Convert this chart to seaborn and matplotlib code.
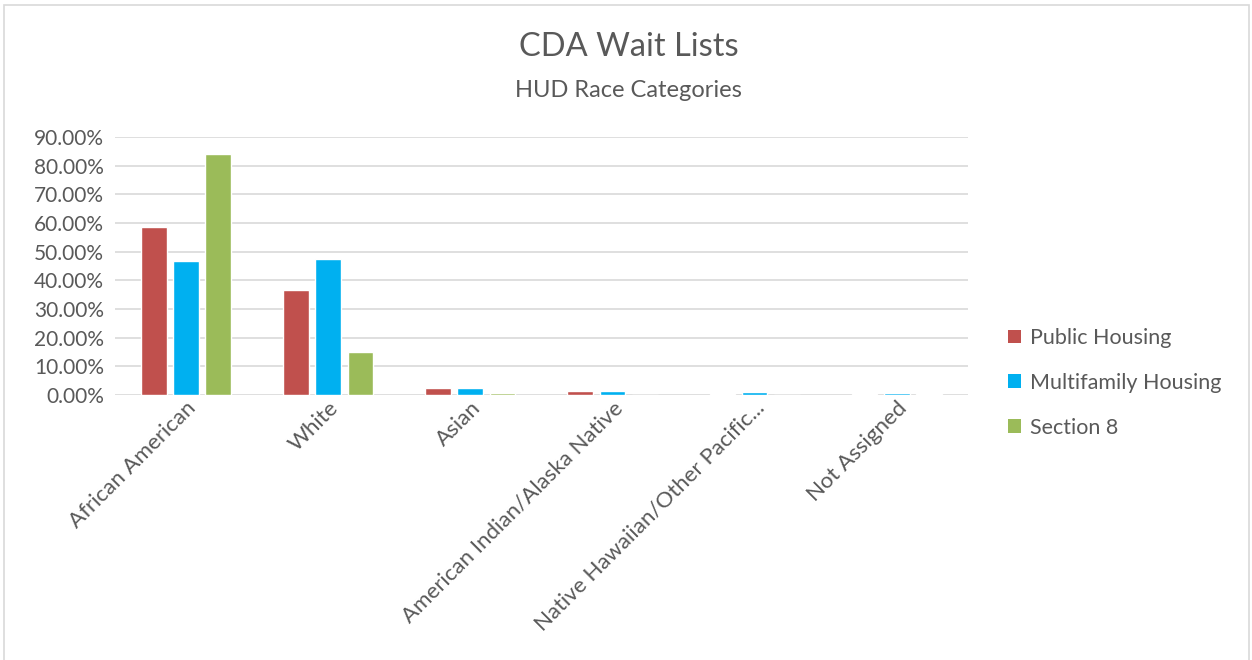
import matplotlib
matplotlib.use("Agg")
import matplotlib.pyplot as plt
from matplotlib.patches import Rectangle, Patch
from matplotlib.ticker import FuncFormatter
import pandas as pd
import seaborn as sns

categories = ["African American", "White", "Asian", "American Indian/Alaska Native",
              "Native Hawaiian/Other Pacific...", "Not Assigned"]
series = ["Public Housing", "Multifamily Housing", "Section 8"]
public_housing = [0.586, 0.366, 0.024, 0.014, 0.003, 0.003]
multifamily_housing = [0.466, 0.475, 0.023, 0.014, 0.009, 0.006]
section_8 = [0.840, 0.149, 0.006, 0.001, 0.001, 0.003]
colors = ["#C0504D", "#00B0F0", "#9BBB59"]

rows = []
for name, vals in zip(series, [public_housing, multifamily_housing, section_8]):
    for cat, v in zip(categories, vals):
        rows.append({"Race": cat, "Program": name, "Share": v})
df = pd.DataFrame(rows)

sns.set_theme(style="white")
FONT = ["Lato", "DejaVu Sans"]
plt.rcParams["font.family"] = FONT
TEXT = "#595959"

fig = plt.figure(figsize=(12.52, 6.6), dpi=100)
fig.patches.append(Rectangle((0.003, -0.1), 0.995, 1.092, transform=fig.transFigure,
                             fill=False, edgecolor="#D9D9D9", linewidth=1.2))
ax = fig.add_axes([0.0919, 0.4015, 0.6811, 0.3909])

sns.barplot(data=df, x="Race", y="Share", hue="Program", order=categories,
            hue_order=series, palette=colors, width=0.68, gap=0.2,
            ax=ax, legend=False, saturation=1)

ax.set_ylim(0, 0.9)
ax.set_yticks([i / 10 for i in range(10)])
ax.yaxis.set_major_formatter(FuncFormatter(lambda v, _: f"{v*100:.2f}%"))
ax.grid(axis="y", color="#D9D9D9", linewidth=1.2)
ax.set_axisbelow(True)
for s in ax.spines.values():
    s.set_visible(False)
ax.set_xlabel("")
ax.set_ylabel("")
ax.tick_params(axis="y", labelsize=15, colors=TEXT, length=0, pad=8)
ax.tick_params(axis="x", labelsize=16, colors=TEXT, length=0, pad=2)
for lab in ax.get_xticklabels():
    lab.set_rotation(45)
    lab.set_ha("right")
    lab.set_va("top")
    lab.set_rotation_mode("anchor")

fig.text(0.502, 0.929, "CDA Wait Lists", ha="center", va="center",
         fontsize=23.5, color=TEXT)
fig.text(0.502, 0.863, "HUD Race Categories", ha="center", va="center",
         fontsize=17, color=TEXT)

handles = [Patch(facecolor=c, edgecolor="none") for c in colors]
fig.legend(handles, series, loc="center left", bbox_to_anchor=(0.79, 0.42),
           frameon=False, fontsize=15.5, labelcolor=TEXT, handlelength=0.6,
           handleheight=0.6, handletextpad=0.4, labelspacing=1.15)

fig.savefig("out.png", dpi=100)
